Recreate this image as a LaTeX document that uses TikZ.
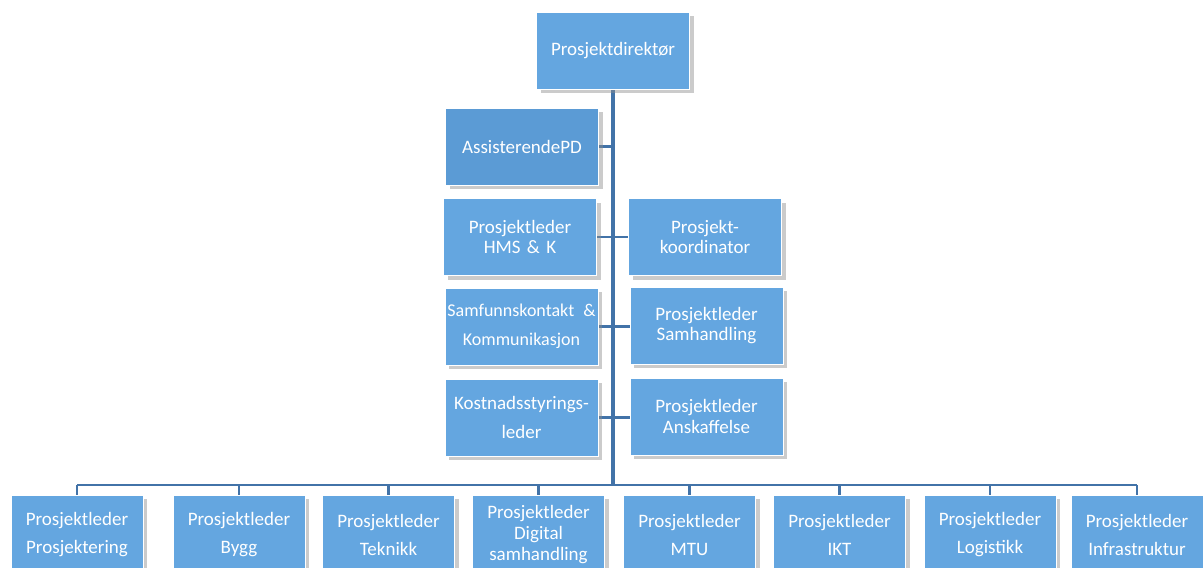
\documentclass[tikz,border=0pt]{standalone}
\usepackage{fontspec}
\setmainfont{Carlito}
\usepackage{xcolor}
\usetikzlibrary{shadows}
\pgfdeclarelayer{background}
\pgfsetlayers{background,main}

\definecolor{boxblue}{RGB}{100,166,224}
\definecolor{boxdark}{RGB}{91,155,213}
\definecolor{linkblue}{RGB}{66,115,168}

\tikzset{
  orgbox/.style={rectangle,fill=boxblue,draw=white,line width=0.8pt,
    text=white,align=center,inner sep=1pt,
    font=\fontsize{19}{20.5}\selectfont,
    drop shadow={shadow xshift=4pt,shadow yshift=-4pt,fill=black!45,opacity=.45}},
  topbox/.style={orgbox,minimum width=153pt,minimum height=77pt,text width=151pt},
  lowbox/.style={orgbox,minimum width=132pt,minimum height=80pt,text width=130pt,
    font=\fontsize{19}{28}\selectfont},
  trunk/.style={draw=linkblue,line width=4.5pt},
  link/.style={draw=linkblue,line width=2.5pt}
}

\begin{document}
\begin{tikzpicture}[x=1pt,y=-1pt]
	%% frame
	\clip (0,0) rectangle (1203,568);
	%% top level
	\node[topbox] (dir) at (613,50.5) {Prosjektdirektør};
	\node[topbox,fill=boxdark] (apd) at (522,146.5) {AssisterendePD};
	%% staff boxes
	\node[topbox] (hms) at (520,237) {Prosjektleder\\HMS \& K};
	\node[topbox] (koord) at (705,237) {Prosjekt-\\koordinator};
	\node[topbox,font=\fontsize{18}{29}\selectfont] (komm) at (521.5,326.5) {Samfunnskontakt\hspace{0.5em}\&\\Kommunikasjon};
	\node[topbox] (samh) at (706.5,325.5) {Prosjektleder\\Samhandling};
	\node[topbox,font=\fontsize{19}{29}\selectfont] (kost) at (521.5,417.5) {Kostnadsstyrings-\\leder};
	\node[topbox] (ansk) at (706.5,416.5) {Prosjektleder\\Anskaffelse};
	%% line managers
	\node[lowbox] (prosj) at (77,535) {Prosjektleder\\Prosjektering};
	\node[lowbox] (bygg) at (239,535) {Prosjektleder\\Bygg};
	\node[lowbox] (tekn) at (388.5,535) {Prosjektleder\\Teknikk};
	\node[lowbox,font=\fontsize{19}{21}\selectfont] (digi) at (538.5,535) {Prosjektleder\\Digital\\samhandling};
	\node[lowbox] (mtu) at (689.5,535) {Prosjektleder\\MTU};
	\node[lowbox] (ikt) at (839.5,535) {Prosjektleder\\IKT};
	\node[lowbox] (logi) at (990,535) {Prosjektleder\\Logistikk};
	\node[lowbox] (infra) at (1137,535) {Prosjektleder\\Infrastruktur};
	%% connectors
	\coordinate (bus) at (613,485);
	\begin{pgfonlayer}{background}
	\fill[white] (0,0) rectangle (1203,568);
	\draw[trunk] (dir.south) -- (bus);
	\draw[link] (apd.east) -- (apd.east -| bus);
	\draw[link] (hms.east) -- (koord.west);
	\draw[link] (komm.east) -- (samh.west |- komm.east);
	\draw[link] (kost.east) -- (ansk.west |- kost.east);
	\draw[link] (prosj.north |- bus) -- (infra.north |- bus);
	\foreach \n in {prosj,bygg,tekn,digi,mtu,ikt,logi,infra}
		\draw[link] (\n.north |- bus) -- (\n.north);
	\end{pgfonlayer}
\end{tikzpicture}
\end{document}
